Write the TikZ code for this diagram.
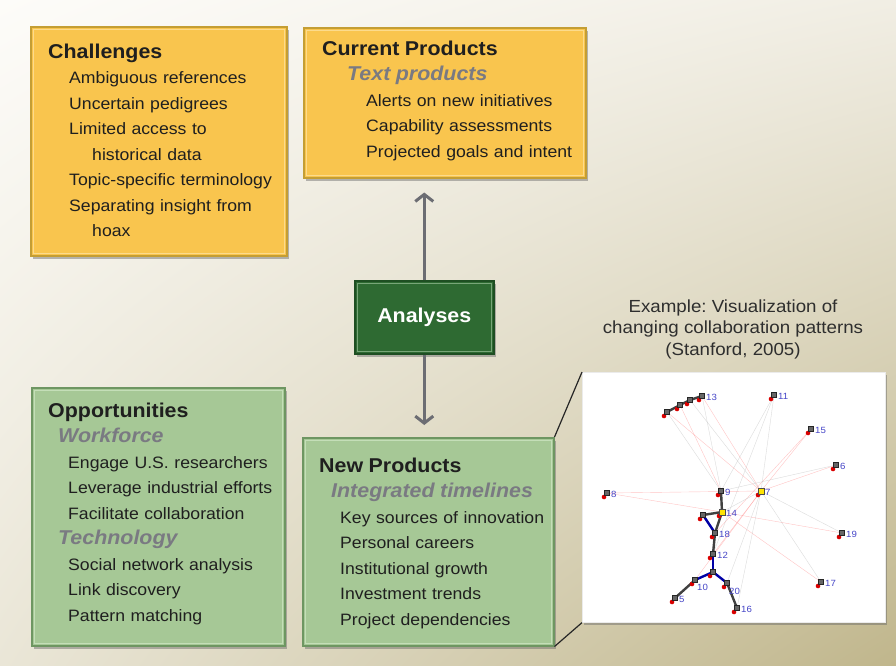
\documentclass[tikz,border=0pt]{standalone}
\usepackage{fontspec}
\setmainfont{Liberation Sans}[FakeStretch=1.07]
\usetikzlibrary{positioning,shadows,shadings,arrows.meta}
\frenchspacing

\definecolor{bgtl}{RGB}{253,252,249}
\definecolor{bgtr}{RGB}{241,238,228}
\definecolor{bgbl}{RGB}{234,230,215}
\definecolor{bgbr}{RGB}{192,182,140}
\definecolor{yfill}{RGB}{249,197,78}
\definecolor{ydark}{RGB}{196,158,52}
\definecolor{ylight}{RGB}{252,219,140}
\definecolor{gfill}{RGB}{166,200,150}
\definecolor{gdark}{RGB}{110,150,98}
\definecolor{glight}{RGB}{196,222,184}
\definecolor{afill}{RGB}{46,106,50}
\definecolor{adark}{RGB}{30,78,34}
\definecolor{alight}{RGB}{120,165,120}
\definecolor{subgray}{RGB}{122,122,130}
\definecolor{arrgray}{RGB}{108,109,115}
\definecolor{netblue}{RGB}{70,70,200}

\newcommand\boxhead[1]{{\fontsize{20}{25.5}\selectfont\bfseries #1}}
\newcommand\boxsub[1]{{\fontsize{20}{25.5}\selectfont\bfseries\itshape\color{subgray}#1}}

\tikzset{
  panel/.style={anchor=north west, line width=1.5pt, inner sep=0pt,
    drop shadow={shadow xshift=2pt,shadow yshift=-3pt,opacity=.45,fill=black!60}},
  ybox/.style={panel, fill=yfill, draw=ydark},
  gbox/.style={panel, fill=gfill, draw=gdark},
  abox/.style={panel, fill=afill, draw=adark, text=white,
    font=\fontsize{20}{24}\selectfont\bfseries},
  txt/.style={anchor=base west, inner sep=0pt, text width=270pt, align=left,
    font=\fontsize{16.5}{25.5}\selectfont, text=black!88},
  garrow/.style={draw=arrgray, line width=3pt, -{Straight Barb[length=7pt,width=18pt]}},
  link/.style={line width=1.2pt, black!85},
  pinkedge/.style={red!50, line width=.4pt, opacity=.45},
  grayedge/.style={black!30, line width=.4pt, opacity=.45},
  darkedge/.style={black!75, line width=2.4pt},
  blueedge/.style={blue!65!black, line width=2.4pt},
  netlbl/.style={anchor=west, inner sep=0pt, text=netblue, font=\fontsize{9}{9}\selectfont}
}

\begin{document}
\begin{tikzpicture}[x=1pt,y=-1pt]
\useasboundingbox (0,0) rectangle (896,665);
\shade[upper left=bgtl, upper right=bgtr, lower left=bgbl, lower right=bgbr] (0,0) rectangle (896,665);

% panels
\node[ybox, minimum width=256pt, minimum height=229pt] (chal) at (30,26) {};
\node[ybox, minimum width=282pt, minimum height=150pt] (curr) at (303,27) {};
\node[abox, minimum width=139pt, minimum height=73pt] (anal) at (354,280) {Analyses};
\node[gbox, minimum width=251pt, minimum height=208pt] (newp) at (302,437) {};
\node[gbox, minimum width=253pt, minimum height=258pt] (opp) at (31,387) {};
\foreach \b/\c in {chal/ylight,curr/ylight,anal/alight,newp/glight,opp/glight}
  \draw[\c, line width=1pt] ([shift={(3.5,3.5)}]\b.north west) rectangle ([shift={(-3.5,-3.5)}]\b.south east);

% panel texts
\node[txt] (chaltxt) at (48,58) {\boxhead{Challenges}\\
  \hspace*{21pt}Ambiguous references\\
  \hspace*{21pt}Uncertain pedigrees\\
  \hspace*{21pt}Limited access to\\
  \hspace*{44pt}historical data\\
  \hspace*{21pt}Topic-specific terminology\\
  \hspace*{21pt}Separating insight from\\
  \hspace*{44pt}hoax};
\node[txt] (currtxt) at (322,55) {\boxhead{Current Products}\\
  \hspace*{25pt}\boxsub{Text products}\\
  \hspace*{44pt}Alerts on new initiatives\\
  \hspace*{44pt}Capability assessments\\
  \hspace*{44pt}Projected goals and intent};
\node[txt] (newptxt) at (319,472) {\boxhead{New Products}\\
  \hspace*{12pt}\boxsub{Integrated timelines}\\
  \hspace*{21pt}Key sources of innovation\\
  \hspace*{21pt}Personal careers\\
  \hspace*{21pt}Institutional growth\\
  \hspace*{21pt}Investment trends\\
  \hspace*{21pt}Project dependencies};
\node[txt] (opptxt) at (48,417) {\boxhead{Opportunities}\\
  \hspace*{10pt}\boxsub{Workforce}\\
  \hspace*{20pt}Engage U.S. researchers\\
  \hspace*{20pt}Leverage industrial efforts\\
  \hspace*{20pt}Facilitate collaboration\\
  \hspace*{10pt}\boxsub{Technology}\\
  \hspace*{20pt}Social network analysis\\
  \hspace*{20pt}Link discovery\\
  \hspace*{20pt}Pattern matching};

% arrows
\draw[garrow, shorten >=14pt] (anal.north) -- (anal.north |- curr.south);
\draw[garrow, shorten >=12pt] (anal.south) -- (anal.south |- newp.north);

% example picture
\node[anchor=base, inner sep=0pt, align=center, text=black!82,
  font=\fontsize{17.5}{21.5}\selectfont] (cap) at (733,355)
  {Example: Visualization of\\changing collaboration patterns\\(Stanford, 2005)};
\node[panel, fill=white, draw=white!92!black, line width=.6pt,
  minimum width=303pt, minimum height=250pt] (viz) at (582,372) {};
\draw[link] (newp.north east) -- (viz.north west);
\draw[link] (newp.south east) -- (viz.south west);

% network
\coordinate (c1) at (667,412);
\coordinate (c2) at (680,405);
\coordinate (c3) at (690,400);
\coordinate (n13) at (702,396);
\coordinate (n11) at (774,395);
\coordinate (n15) at (811,429);
\coordinate (n6) at (836,465);
\coordinate (n8) at (607,493);
\coordinate (n9) at (721,491);
\coordinate (n7) at (761,491);
\coordinate (n14) at (722,512);
\coordinate (tt) at (703,515);
\coordinate (n18) at (715,533);
\coordinate (n12) at (713,554);
\coordinate (jj) at (713,572);
\coordinate (n10) at (695,580);
\coordinate (n5) at (675,598);
\coordinate (n20) at (727,583);
\coordinate (n16) at (737,608);
\coordinate (n19) at (842,533);
\coordinate (n17) at (821,582);

\foreach \a/\b in {n7/c1,n7/n13,n7/n15,n7/n6,n7/n8,n7/n12,n7/n10,n14/n19,n14/n8,n14/n17,n9/c2,n18/n15}
  \draw[pinkedge] (\a) -- (\b);
\foreach \a/\b in {n7/c3,n7/n11,n7/n19,n7/n17,n7/n16,n7/n14,n9/c1,n9/n11,n9/n6,n9/n13,n12/n11,n20/n7}
  \draw[grayedge] (\a) -- (\b);
\foreach \a/\b in {c1/c2,c2/c3,c3/n13,n9/n14,n14/n18,n18/n12,n10/n5,n20/n16,tt/n14}
  \draw[darkedge] (\a) -- (\b);
\foreach \a/\b in {tt/n18,n12/jj,jj/n10,jj/n20}
  \draw[blueedge] (\a) -- (\b);

\foreach \n in {c1,c2,c3,n13,n11,n15,n6,n8,n9,n7,n14,tt,n18,n12,jj,n10,n5,n20,n16,n19,n17}
  \fill[red!85!black] ([shift={(-3,4)}]\n) circle (2.3pt);
\foreach \n in {c1,c2,c3,n13,n11,n15,n6,n8,n9,tt,n18,n12,jj,n10,n5,n20,n16,n19,n17}
  \filldraw[fill=black!60, draw=black!85, line width=.5pt] ([shift={(-2.6,-2.6)}]\n) rectangle ++(5.2,5.2);
\foreach \n in {n7,n14}
  \filldraw[fill=yellow!85!orange, draw=black!70, line width=.5pt] ([shift={(-3,-3)}]\n) rectangle ++(6,6);

\foreach \n/\t in {n13/13,n11/11,n15/15,n6/6,n8/8,n9/9,n7/7,n14/14,n18/18,n12/12,n5/5,n16/16,n19/19,n17/17}
  \node[netlbl] (lab\t) at ([shift={(4,1.5)}]\n) {\t};
\node[netlbl] (lab10) at ([shift={(2,7)}]n10) {10};
\node[netlbl] (lab20) at ([shift={(2,8)}]n20) {20};
\end{tikzpicture}
\end{document}
